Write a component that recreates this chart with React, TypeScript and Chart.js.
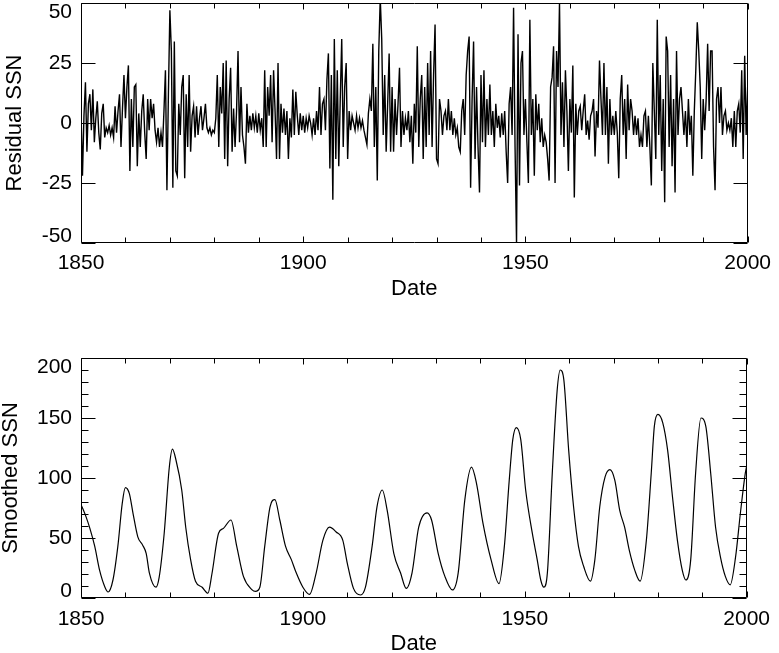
import React, { useEffect, useRef } from "react";
import { Chart, registerables } from "chart.js";

Chart.register(...registerables);

// ---------- data ----------
// residual SSN, sampled every 1/3 year from 1850
const residualStartYear = 1850;
const residualStepYears = 1 / 3;
const residualValues = [
  5, -22, 3, 17, -12, 8, 12, -3, 14, -8, 2, 9, -4, -11, 4,
  8, -6, -2, -4, -1, -5, -2, -6, 7, -4, 5, 12, -10, 6, 20,
  2, 15, 24, -20, 10, -10, 15, 16, -18, 4, -10, 5, 12, -4, -15,
  10, -3, 10, 2, 8, -3, -8, -2, -10, -4, -10, 5, 22, -28, 12,
  47, 30, -27, 34, -20, -22, 8, -5, 15, 20, -23, 12, -10, 20, -12,
  3, 7, -6, 7, -5, 2, 7, -3, 2, 8, -2, -4, -2, -5, -3,
  -4, 2, 20, -10, 15, 4, 25, -15, 26, -18, 10, 23, -12, 6, -10,
  5, 30, -8, 15, -5, -10, -17, 8, -4, 3, -3, 4, -2, 3, -4,
  4, -3, 2, -10, 22, -10, 15, 3, 20, -8, 22, 5, -15, 25, -15,
  8, -4, 6, -5, 5, -15, 2, -6, 14, -5, 13, 3, -5, 4, -3,
  3, -4, 2, -2, 3, 0, -5, 2, -5, 5, -3, 15, -5, 8, 10,
  -3, 18, 29, -19, 20, -32, 35, -15, 22, -18, 10, 35, -10, 15, 25,
  -15, 5, -3, 3, 0, -3, 3, -2, 2, -2, 1, -3, -6, -9, 4,
  10, 5, 33, -10, 15, -24, 30, 52, 35, -5, 20, -12, 8, 29, -12,
  15, -12, 10, -5, 8, 23, -10, 5, -5, 2, -3, 5, -8, 3, -17,
  8, -4, 32, -10, 10, 20, -15, 15, -10, 25, -5, 30, -10, 20, 41,
  -15, -17, 10, 5, -5, 3, 5, -3, 10, -3, 5, -5, 2, -5, -2,
  -10, -12, 5, 10, -5, 20, 30, 36, -27, 10, 34, -15, 15, -10, -29,
  20, -8, 22, -10, 10, -5, 16, -5, 5, -10, 8, -2, 3, -6, 4,
  -5, 5, -12, -25, 8, 15, -5, 48, -10, -50, 37, -26, 25, 30, -5,
  10, -8, -25, 43, -5, 10, -22, 12, -3, 8, -8, 2, -10, -5, -8,
  -15, -24, 15, 19, 32, -25, 30, 15, 50, -5, 17, -10, 22, 5, -20,
  10, -4, 24, -31, 8, -5, 5, 7, -3, 5, 12, -5, 1, -7, 3,
  5, 10, -14, 5, -2, 26, 10, -5, 25, -5, 15, -17, 10, -5, 3,
  -5, 5, -4, -23, 10, 20, -5, 10, -15, 16, -3, 10, 5, -5, 3,
  -5, 2, -10, -5, -10, 3, 5, -10, 3, -10, -26, 25, 5, -15, 43,
  -5, 20, -20, 10, -33, 36, 30, -10, 20, -18, 10, -29, 30, -5, 10,
  15, 5, -5, 5, -10, 10, -5, 3, -22, 5, 22, 42, 30, 15, -15,
  10, -3, 10, 33, 5, 30, 30, -10, -28, 10, 15, 0, 15, -5, 3,
  5, -3, 0, -3, 2, -10, 5, -10, 5, 8, -4, 22, -15, 28, -5,
  15,
];

// smoothed SSN
const smoothYears = [
  1850.0, 1851.1, 1852.0, 1853.1, 1854.2, 1855.4, 1856.1, 1857.2, 1858.3, 1859.3,
  1860.0, 1860.9, 1861.7, 1862.8, 1863.9, 1864.7, 1865.4, 1866.9, 1867.6, 1868.75,
  1869.9, 1870.6, 1871.4, 1872.7, 1873.6, 1874.7, 1875.8, 1877.3, 1878.6, 1879.5,
  1881.0, 1882.1, 1883.8, 1885.1, 1886.6, 1888.5, 1889.3, 1890.3, 1891.4, 1892.6,
  1893.7, 1894.8, 1896.1, 1897.4, 1898.5, 1900.0, 1901.5, 1903.0, 1904.5, 1906.0,
  1907.5, 1909.0, 1910.0, 1911.4, 1913.0, 1914.1, 1915.6, 1916.7, 1917.9, 1919.0,
  1920.5, 1922.0, 1923.3, 1924.6, 1926.1, 1928.0, 1929.0, 1930.5, 1932.0, 1933.7,
  1935.0, 1936.5, 1938.0, 1939.1, 1940.6, 1942.4, 1944.2, 1945.4, 1946.5, 1947.3,
  1948.1, 1949.1, 1950.2, 1951.7, 1952.8, 1953.6, 1954.3, 1955.1, 1956.2, 1957.3,
  1958.0, 1958.8, 1959.9, 1961.0, 1962.1, 1963.3, 1964.8, 1965.8, 1966.9, 1968.1,
  1969.2, 1970.3, 1971.4, 1972.5, 1973.6, 1974.8, 1976.0, 1977.4, 1978.5, 1979.2,
  1980.0, 1981.1, 1982.2, 1983.3, 1984.4, 1985.5, 1986.3, 1987.4, 1988.5, 1989.7,
  1990.8, 1991.9, 1993.0, 1994.1, 1995.2, 1996.3, 1997.5, 1998.6, 1999.7, 2000.0,
];
const smoothValues = [
  78, 68, 58, 43, 23, 9, 5, 15, 43, 79,
  92, 87, 71, 51, 44, 37, 21, 9, 17, 54,
  109, 124, 115, 90, 59, 32, 14, 9, 4, 20,
  54, 58, 65, 43, 18, 7, 5.5, 9, 43, 76,
  82, 65, 43, 32, 21, 9, 3, 21, 48, 59,
  55, 48, 29, 8, 2.5, 9, 43, 76, 90, 73,
  37, 21, 8, 21, 59, 71, 65, 37, 18, 6.7,
  21, 82, 109, 96, 62, 32, 12, 43, 98, 132,
  142, 132, 90, 54, 32, 15, 9, 21, 104, 173,
  190, 182, 123, 76, 43, 26, 14, 32, 76, 101,
  107, 98, 73, 59, 39, 23, 14, 48, 104, 143,
  153, 146, 123, 84, 48, 23, 15, 32, 104, 150,
  143, 104, 59, 34, 18, 11, 34, 71, 104, 110,
];

// axes
const xMajorYears = [1850, 1900, 1950, 2000];
const xMinorYears = [1860, 1870, 1880, 1890, 1910, 1920, 1930, 1940, 1960, 1970, 1980, 1990];
const residualTickValues = [-50, -25, 0, 25, 50];
const residualMinorValues: number[] = [];
const smoothTickValues = [0, 50, 100, 150, 200];
const smoothMinorValues = [10, 20, 30, 40, 60, 70, 80, 90, 110, 120, 130, 140, 160, 170, 180, 190];

const FONT = "'Liberation Sans', Arial, Helvetica, sans-serif";

function framePlugin(majorY: number[], minorY: number[]) {
  return {
    id: "frameTicks",
    afterDatasetsDraw(chart: any) {
      const { ctx, chartArea: a, scales } = chart;
      const xs = scales.x;
      const ys = scales.y;
      const L = Math.round(a.left) + 0.5;
      const R = Math.round(a.right) - 0.5;
      const T = Math.round(a.top) + 0.5;
      const B = Math.round(a.bottom) - 0.5;
      ctx.save();
      ctx.strokeStyle = "#000";
      ctx.lineWidth = 1;
      ctx.beginPath();
      ctx.rect(L, T, R - L, B - T);
      const xTick = (v: number, len: number) => {
        const p = Math.round(xs.getPixelForValue(v)) + 0.5;
        ctx.moveTo(p, B);
        ctx.lineTo(p, B - len);
        ctx.moveTo(p, T);
        ctx.lineTo(p, T + len);
      };
      const yTick = (v: number, len: number) => {
        const p = Math.round(ys.getPixelForValue(v)) + 0.5;
        ctx.moveTo(L, p);
        ctx.lineTo(L + len, p);
        ctx.moveTo(R, p);
        ctx.lineTo(R - len, p);
      };
      xMajorYears.forEach((v) => xTick(v, 6));
      xMinorYears.forEach((v) => xTick(v, 5));
      majorY.forEach((v) => yTick(v, 14));
      minorY.forEach((v) => yTick(v, 7));
      ctx.stroke();

      ctx.fillStyle = "#000";
      ctx.font = `21px ${FONT}`;
      ctx.textAlign = "right";
      ctx.textBaseline = "middle";
      majorY.forEach((v) => {
        let p = ys.getPixelForValue(v);
        p = Math.max(a.top + 9, Math.min(a.bottom - 7, p));
        ctx.fillText(String(v), a.left - 9, p);
      });
      ctx.restore();
    },
  };
}

function makeConfig(opts: {
  points: { x: number; y: number }[];
  yMin: number;
  yMax: number;
  padTop: number;
  xHeight: number;
  yTitle: string;
  yTitlePad: number;
  xTitleLineHeight: number;
  xTickPad: number;
  smooth: boolean;
  majorY: number[];
  minorY: number[];
}): any {
  return {
    type: "line",
    data: {
      datasets: [
        {
          data: opts.points,
          borderColor: "#000",
          borderWidth: opts.smooth ? 1.2 : 1.4,
          pointRadius: 0,
          fill: false,
          tension: 0,
          cubicInterpolationMode: opts.smooth ? "monotone" : "default",
        },
      ],
    },
    options: {
      responsive: false,
      maintainAspectRatio: false,
      animation: false,
      events: [],
      layout: { padding: { left: 0, right: 26, top: opts.padTop, bottom: 0 } },
      plugins: { legend: { display: false }, tooltip: { enabled: false } },
      scales: {
        x: {
          type: "linear",
          min: 1850,
          max: 2000,
          afterFit: (s: any) => {
            s.height = opts.xHeight;
          },
          afterBuildTicks: (s: any) => {
            s.ticks = xMajorYears.map((v) => ({ value: v }));
          },
          grid: { display: false, drawTicks: false },
          border: { display: false },
          ticks: {
            padding: opts.xTickPad,
            color: "#000",
            font: { family: FONT, size: 21 },
            maxRotation: 0,
            autoSkip: false,
            callback: (v: any) => String(v),
          },
          title: {
            display: true,
            text: "Date",
            color: "#000",
            font: { family: FONT, size: 22, lineHeight: opts.xTitleLineHeight },
            padding: { top: 0, bottom: 0 },
          },
        },
        y: {
          type: "linear",
          min: opts.yMin,
          max: opts.yMax,
          afterFit: (s: any) => {
            s.width = 81;
          },
          grid: { display: false, drawTicks: false },
          border: { display: false },
          ticks: { display: false },
          title: {
            display: true,
            text: opts.yTitle,
            color: "#000",
            font: { family: FONT, size: 22, lineHeight: 1 },
            padding: { top: opts.yTitlePad, bottom: 0 },
          },
        },
      },
    },
    plugins: [framePlugin(opts.majorY, opts.minorY)],
  };
}

export default function App() {
  const topRef = useRef<HTMLCanvasElement>(null);
  const botRef = useRef<HTMLCanvasElement>(null);

  useEffect(() => {
    const residualPoints = residualValues.map((v, i) => ({
      x: residualStartYear + i * residualStepYears,
      y: v,
    }));
    const smoothPoints = smoothYears.map((yr, i) => ({ x: yr, y: smoothValues[i] }));

    const c1 = new Chart(
      topRef.current as HTMLCanvasElement,
      makeConfig({
        points: residualPoints,
        yMin: -50,
        yMax: 50,
        padTop: 3,
        xHeight: 57,
        yTitle: "Residual SSN",
        yTitlePad: 4,
        xTitleLineHeight: 1.05,
        xTickPad: 8,
        smooth: false,
        majorY: residualTickValues,
        minorY: residualMinorValues,
      })
    );
    const c2 = new Chart(
      botRef.current as HTMLCanvasElement,
      makeConfig({
        points: smoothPoints,
        yMin: 0,
        yMax: 200,
        padTop: 58,
        xHeight: 55,
        yTitle: "Smoothed SSN",
        yTitlePad: 0,
        xTitleLineHeight: 0.86,
        xTickPad: 9,
        smooth: true,
        majorY: smoothTickValues,
        minorY: smoothMinorValues,
      })
    );
    return () => {
      c1.destroy();
      c2.destroy();
    };
  }, []);

  return (
    <div
      style={{
        position: "absolute",
        left: 0,
        top: 0,
        width: 779,
        height: 653,
        overflow: "hidden",
        background: "#fff",
      }}
    >
      <canvas
        ref={topRef}
        width={779}
        height={300}
        style={{ position: "absolute", left: 0, top: 0, width: 779, height: 300 }}
      />
      <canvas
        ref={botRef}
        width={779}
        height={353}
        style={{ position: "absolute", left: 0, top: 300, width: 779, height: 353 }}
      />
    </div>
  );
}
